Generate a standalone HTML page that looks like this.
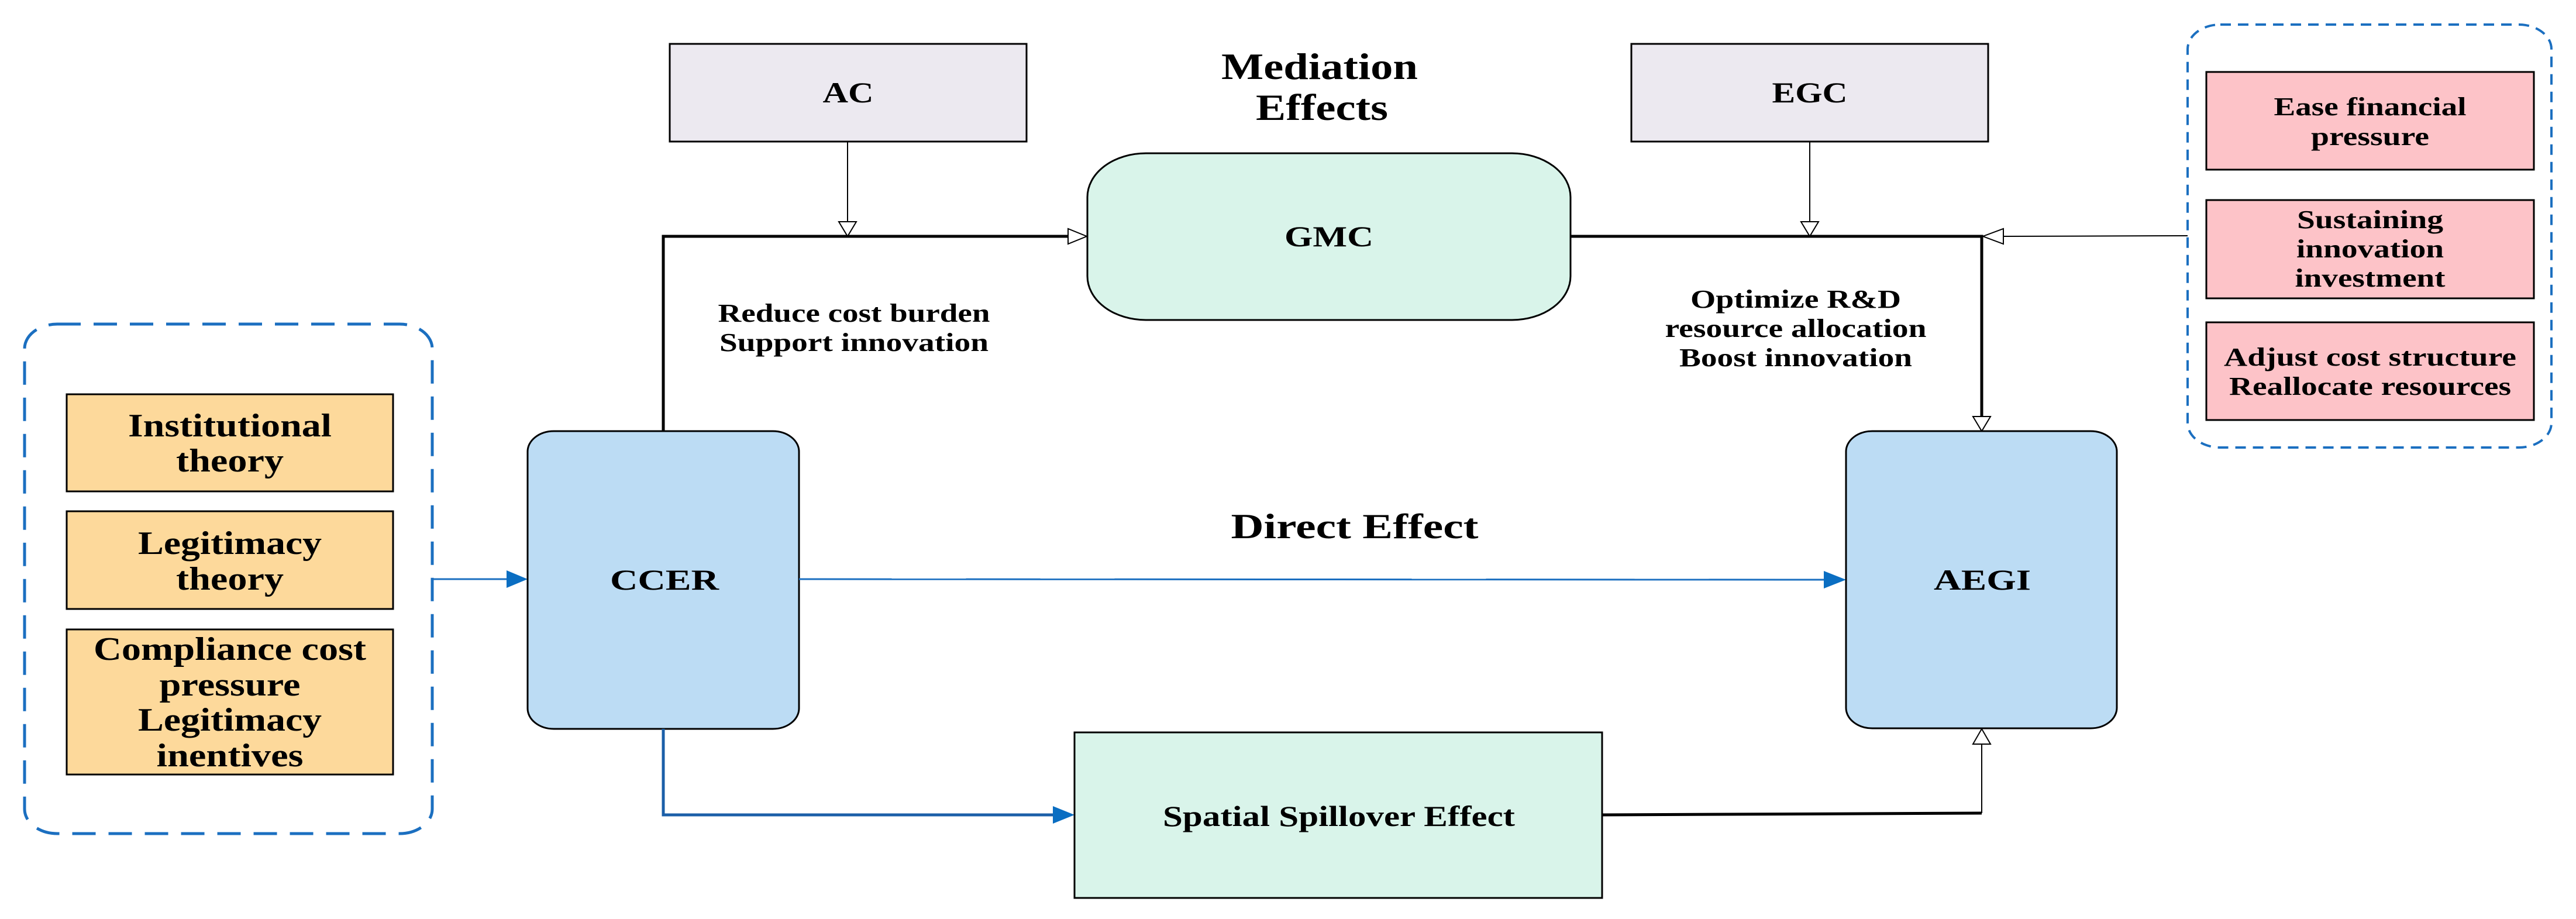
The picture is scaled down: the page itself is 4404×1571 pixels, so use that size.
<!DOCTYPE html>
<html><head><meta charset="utf-8"><style>
html,body{margin:0;padding:0;background:#fff;}
svg{display:block;}
text{font-family:"Liberation Serif",serif;font-weight:bold;fill:#000;}
</style></head><body>
<svg width="4404" height="1571" viewBox="0 0 4404 1571" xmlns="http://www.w3.org/2000/svg">
<defs>
<marker id="open" markerWidth="12" markerHeight="12" refX="10" refY="5" orient="auto" markerUnits="userSpaceOnUse" viewBox="0 0 10 10">
</marker>
</defs>
<!-- left dashed group -->
<rect x="42" y="554" width="697" height="871" rx="56" ry="42" fill="none" stroke="#1b6fc0" stroke-width="5" stroke-dasharray="40,22"/>
<rect x="114" y="674" width="558" height="166" fill="#fdd99b" stroke="#000" stroke-width="3"/>
<rect x="114" y="874" width="558" height="167" fill="#fdd99b" stroke="#000" stroke-width="3"/>
<rect x="114" y="1076" width="558" height="248" fill="#fdd99b" stroke="#000" stroke-width="3"/>
<g font-size="56" text-anchor="middle">
<text x="393" y="746" textLength="348" lengthAdjust="spacingAndGlyphs">Institutional</text>
<text x="393" y="806" textLength="184" lengthAdjust="spacingAndGlyphs">theory</text>
<text x="393" y="947" textLength="314" lengthAdjust="spacingAndGlyphs">Legitimacy</text>
<text x="393" y="1008" textLength="184" lengthAdjust="spacingAndGlyphs">theory</text>
<text x="393" y="1128" textLength="466" lengthAdjust="spacingAndGlyphs">Compliance cost</text>
<text x="393" y="1189" textLength="241" lengthAdjust="spacingAndGlyphs">pressure</text>
<text x="393" y="1249" textLength="314" lengthAdjust="spacingAndGlyphs">Legitimacy</text>
<text x="393" y="1310" textLength="251" lengthAdjust="spacingAndGlyphs">inentives</text>
</g>
<!-- left to CCER -->
<line x1="739" y1="990" x2="870" y2="990" stroke="#1b6fc0" stroke-width="3"/>
<polygon points="866,975 902,990 866,1005" fill="#0a6ec2"/>
<!-- CCER -->
<rect x="902" y="737" width="464" height="509" rx="45" ry="35" fill="#bcdcf4" stroke="#000" stroke-width="3"/>
<text x="1136" y="1008" font-size="50" text-anchor="middle" textLength="186" lengthAdjust="spacingAndGlyphs">CCER</text>
<!-- AC -->
<rect x="1145" y="75" width="610" height="167" fill="#ece9f0" stroke="#000" stroke-width="3"/>
<text x="1450" y="175" font-size="50" text-anchor="middle" textLength="87" lengthAdjust="spacingAndGlyphs">AC</text>
<line x1="1449" y1="242" x2="1449" y2="379" stroke="#000" stroke-width="2"/>
<polygon points="1434,379 1464,379 1449,404" fill="#fff" stroke="#000" stroke-width="2"/>
<!-- main top line -->
<polyline points="1134,737 1134,404 1826,404" fill="none" stroke="#000" stroke-width="5"/>
<polygon points="1826,391 1826,417 1858,404" fill="#fff" stroke="#000" stroke-width="2"/>
<g font-size="44" text-anchor="middle">
<text x="1460" y="550" textLength="465" lengthAdjust="spacingAndGlyphs">Reduce cost burden</text>
<text x="1460" y="600" textLength="460" lengthAdjust="spacingAndGlyphs">Support innovation</text>
</g>
<!-- Mediation -->
<g font-size="64" text-anchor="middle">
<text x="2256" y="135" textLength="336" lengthAdjust="spacingAndGlyphs">Mediation</text>
<text x="2260" y="205" textLength="226" lengthAdjust="spacingAndGlyphs">Effects</text>
</g>
<!-- GMC -->
<rect x="1859" y="262" width="826" height="285" rx="100" ry="75" fill="#d9f4ea" stroke="#000" stroke-width="3"/>
<text x="2272" y="421" font-size="50" text-anchor="middle" textLength="152" lengthAdjust="spacingAndGlyphs">GMC</text>
<!-- EGC -->
<rect x="2789" y="75" width="610" height="167" fill="#ece9f0" stroke="#000" stroke-width="3"/>
<text x="3094" y="175" font-size="50" text-anchor="middle" textLength="129" lengthAdjust="spacingAndGlyphs">EGC</text>
<line x1="3094" y1="242" x2="3094" y2="379" stroke="#000" stroke-width="2"/>
<polygon points="3079,379 3109,379 3094,404" fill="#fff" stroke="#000" stroke-width="2"/>
<!-- GMC to AEGI -->
<polyline points="2685,404 3388,404 3388,712" fill="none" stroke="#000" stroke-width="5"/>
<polygon points="3373,712 3403,712 3388,737" fill="#fff" stroke="#000" stroke-width="2"/>
<g font-size="44" text-anchor="middle">
<text x="3070" y="526" textLength="360" lengthAdjust="spacingAndGlyphs">Optimize R&amp;D</text>
<text x="3070" y="576" textLength="447" lengthAdjust="spacingAndGlyphs">resource allocation</text>
<text x="3070" y="626" textLength="398" lengthAdjust="spacingAndGlyphs">Boost innovation</text>
</g>
<!-- right dashed group -->
<rect x="3740" y="42" width="622" height="723" rx="56" ry="42" fill="none" stroke="#1b6fc0" stroke-width="4" stroke-dasharray="18,12"/>
<line x1="3740" y1="403" x2="3425" y2="404" stroke="#000" stroke-width="2"/>
<polygon points="3425,391 3425,417 3390,404" fill="#fff" stroke="#000" stroke-width="2"/>
<rect x="3772" y="123" width="560" height="167" fill="#fdc3c8" stroke="#000" stroke-width="3"/>
<rect x="3772" y="342" width="560" height="168" fill="#fdc3c8" stroke="#000" stroke-width="3"/>
<rect x="3772" y="551" width="560" height="167" fill="#fdc3c8" stroke="#000" stroke-width="3"/>
<g font-size="44" text-anchor="middle">
<text x="4052" y="197" textLength="329" lengthAdjust="spacingAndGlyphs">Ease financial</text>
<text x="4052" y="248" textLength="202" lengthAdjust="spacingAndGlyphs">pressure</text>
<text x="4052" y="390" textLength="250" lengthAdjust="spacingAndGlyphs">Sustaining</text>
<text x="4052" y="440" textLength="252" lengthAdjust="spacingAndGlyphs">innovation</text>
<text x="4052" y="490" textLength="257" lengthAdjust="spacingAndGlyphs">investment</text>
<text x="4052" y="625" textLength="500" lengthAdjust="spacingAndGlyphs">Adjust cost structure</text>
<text x="4052" y="675" textLength="482" lengthAdjust="spacingAndGlyphs">Reallocate resources</text>
</g>
<!-- Direct effect -->
<text x="2316" y="920" font-size="60" text-anchor="middle" textLength="423" lengthAdjust="spacingAndGlyphs">Direct Effect</text>
<line x1="1366" y1="990" x2="3122" y2="991" stroke="#1b6fc0" stroke-width="3"/>
<polygon points="3118,976 3156,991 3118,1006" fill="#0a6ec2"/>
<!-- AEGI -->
<rect x="3156" y="737" width="463" height="508" rx="45" ry="35" fill="#bcdcf4" stroke="#000" stroke-width="3"/>
<text x="3389" y="1008" font-size="50" text-anchor="middle" textLength="166" lengthAdjust="spacingAndGlyphs">AEGI</text>
<!-- spatial -->
<polyline points="1134,1246 1134,1393 1800,1393" fill="none" stroke="#1b5fa8" stroke-width="5"/>
<polygon points="1800,1378 1837,1393 1800,1408" fill="#0a6ec2"/>
<rect x="1837" y="1252" width="902" height="283" fill="#d9f4ea" stroke="#000" stroke-width="3"/>
<text x="2289" y="1412" font-size="50" text-anchor="middle" textLength="602" lengthAdjust="spacingAndGlyphs">Spatial Spillover Effect</text>
<line x1="2739" y1="1393" x2="3388" y2="1390" stroke="#000" stroke-width="5"/>
<line x1="3388" y1="1390" x2="3388" y2="1272" stroke="#000" stroke-width="2"/>
<polygon points="3373,1272 3403,1272 3388,1246" fill="#fff" stroke="#000" stroke-width="2"/>
</svg>
</body></html>
